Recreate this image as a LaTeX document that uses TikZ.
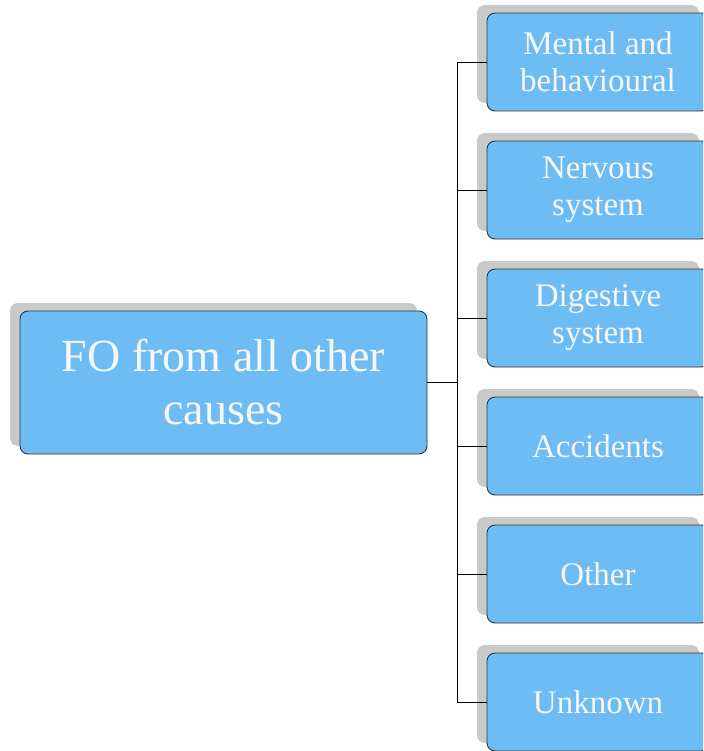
\documentclass[tikz,border=0pt]{standalone}
\usepackage{fontspec}
\setmainfont{Liberation Serif}
\usetikzlibrary{shadows}
\definecolor{boxblue}{HTML}{6DBCF4}
\definecolor{boxedge}{HTML}{2E3438}
\definecolor{shade}{HTML}{C9C9C9}
\definecolor{boxtext}{HTML}{F7F7F7}
\begin{document}
\begin{tikzpicture}[x=1pt,y=-1pt,
  box/.style={draw=boxedge, line width=0.9pt, fill=boxblue, rounded corners=8pt,
    text=boxtext, align=center, inner sep=0pt,
    general shadow={fill=shade, shadow xshift=-10pt, shadow yshift=8pt}},
  mainbox/.style={box, minimum width=407pt, minimum height=143pt,
    font=\fontsize{46}{53}\selectfont},
  causebox/.style={box, minimum width=222pt, minimum height=98pt,
    font=\fontsize{33}{37}\selectfont},
  link/.style={draw=black, line width=0.9pt}]
\useasboundingbox (0,0) rectangle (703,751);
\clip (0,0) rectangle (703,751);
\node[mainbox] (root) at (223.5,382.5) {FO from all other\\causes};
\node[causebox] (c1) at (598,62) {Mental and\\behavioural};
\node[causebox] (c2) at (598,190) {Nervous\\system};
\node[causebox] (c3) at (598,318) {Digestive\\system};
\node[causebox] (c4) at (598,446) {Accidents};
\node[causebox] (c5) at (598,574) {Other};
\node[causebox] (c6) at (598,702) {Unknown};
\coordinate (fork) at (457,382.5);
\draw[link] (root.east) -- (fork);
\foreach \n in {c1,c2,c3,c4,c5,c6}
  \draw[link] (fork) |- (\n.west);
\end{tikzpicture}
\end{document}
